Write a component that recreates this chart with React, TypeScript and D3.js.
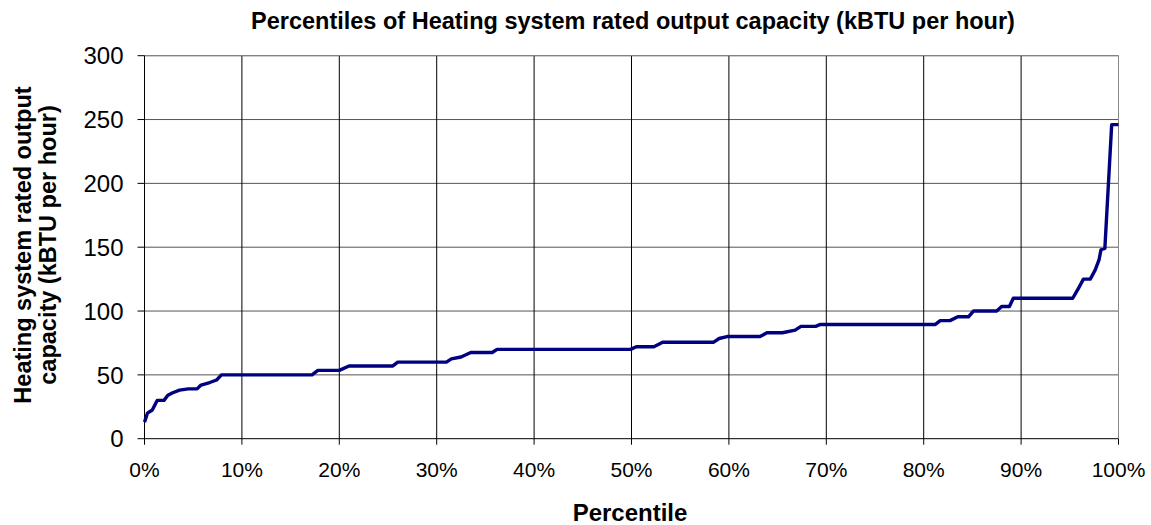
import React from "react";
import * as d3 from "d3";

const percentiles = [0, 0.3, 0.8, 1.3, 2.0, 2.4, 2.9, 3.6, 4.5, 5.4, 5.8, 6.7, 7.4, 7.9, 17.2, 17.8, 20.0, 21.0, 25.5, 26.0, 31.0, 31.5, 32.5, 33.5, 35.7, 36.2, 49.9, 50.5, 52.3, 53.2, 58.4, 59.0, 59.8, 63.2, 63.9, 65.5, 66.8, 67.4, 68.9, 69.4, 81.2, 81.7, 82.7, 83.5, 84.6, 85.1, 87.5, 88.0, 88.8, 89.2, 95.3, 95.9, 96.4, 97.1, 97.6, 98.0, 98.2, 98.6, 99.3, 100];
const capacities = [13, 20, 22.5, 30, 30, 34, 36, 38, 39, 39, 42, 44, 46, 50, 50, 53.5, 53.5, 57, 57, 60, 60, 62.5, 64, 67.5, 67.5, 70, 70, 72, 72, 75.5, 75.5, 78.5, 80, 80, 83, 83, 85, 88, 88, 89.5, 89.5, 92.5, 92.5, 95.5, 95.5, 100, 100, 103.5, 103.5, 110, 110, 118, 125, 125, 132, 140, 148, 149, 246, 246];
const yTicks = [0, 50, 100, 150, 200, 250, 300];
const xTicks = [0, 10, 20, 30, 40, 50, 60, 70, 80, 90, 100];

const title = "Percentiles of Heating system rated output capacity (kBTU per hour)";
const xTitle = "Percentile";
const yTitleLines = ["Heating system rated output", "capacity (kBTU per hour)"];

export default function App() {
  const W = 1151, H = 525;
  const left = 144.5, right = 1118.5, top = 55.7, bottom = 438.7;
  const x = d3.scaleLinear().domain([0, 100]).range([left, right]);
  const y = d3.scaleLinear().domain([0, 300]).range([bottom, top]);
  const pts: [number, number][] = percentiles.map((p, i) => [p, capacities[i]]);
  const line = d3.line<[number, number]>().x(d => x(d[0])).y(d => y(d[1]));
  const font = "'Liberation Sans', Arial, sans-serif";
  return (
    <svg width={W} height={H} style={{ position: "absolute", left: 0, top: 0, background: "#fff" }} fontFamily={font}>
      <rect x={0} y={0} width={W} height={H} fill="#fff" />
      {yTicks.map(t => (
        <g key={"y" + t}>
          <line x1={left} x2={right} y1={y(t)} y2={y(t)} stroke={t === 0 ? "#000" : "#555"} strokeWidth={1} />
          <line x1={left - 7} x2={left} y1={y(t)} y2={y(t)} stroke="#000" />
          <text x={123.5} y={y(t)} dy="0.36em" textAnchor="end" fontSize={24}>{t}</text>
        </g>
      ))}
      {xTicks.map(t => (
        <g key={"x" + t}>
          <line x1={x(t)} x2={x(t)} y1={top} y2={bottom} stroke={t === 100 ? "#888" : "#000"} strokeWidth={1} />
          <line x1={x(t)} x2={x(t)} y1={bottom} y2={bottom + 6} stroke="#000" />
          <text x={x(t)} y={477} textAnchor="middle" fontSize={21}>{t + "%"}</text>
        </g>
      ))}
      <line x1={left} x2={right} y1={top} y2={top} stroke="#888" />
      <line x1={left} x2={left} y1={top} y2={bottom} stroke="#000" />
      <path d={line(pts) || ""} fill="none" stroke="#000080" strokeWidth={3.4} strokeLinejoin="round" />
      <text x={633} y={29} textAnchor="middle" fontSize={23.5} fontWeight="bold">{title}</text>
      <text x={630} y={521} textAnchor="middle" fontSize={24} fontWeight="bold">{xTitle}</text>
      <text transform="translate(31,245) rotate(-90)" textAnchor="middle" fontSize={23.5} fontWeight="bold">
        <tspan x={0} dy={0}>{yTitleLines[0]}</tspan>
        <tspan x={0} dy={24.5}>{yTitleLines[1]}</tspan>
      </text>
    </svg>
  );
}
